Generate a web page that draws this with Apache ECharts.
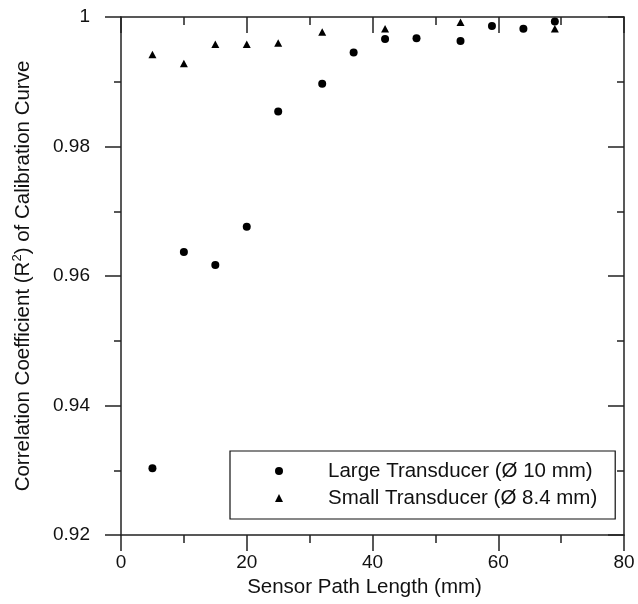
<!DOCTYPE html>
<html>
<head>
<meta charset="utf-8">
<script src="https://cdn.jsdelivr.net/npm/echarts@6/dist/echarts.min.js"></script>
<style>
  html, body { margin: 0; padding: 0; background: #fff; }
  #chart { width: 638px; height: 604px; }
</style>
</head>
<body>
<div id="chart"></div>
<script>
// Sensor path length (mm) for each transducer
const largePathLength = [5, 10, 15, 20, 25, 32, 37, 42, 47, 54, 59, 64, 69];
const largeR2 = [0.9303, 0.9637, 0.9617, 0.9676, 0.9854, 0.9897, 0.9945, 0.9966, 0.9967, 0.9963, 0.9986, 0.9982, 0.9993];

const smallPathLength = [5, 10, 15, 20, 25, 32, 42, 54, 69];
const smallR2 = [0.9942, 0.9928, 0.9958, 0.9958, 0.9960, 0.9977, 0.9982, 0.9992, 0.9982];

const seriesNames = ['Large Transducer (Ø 10 mm)', 'Small Transducer (Ø 8.4 mm)'];
const xTitle = 'Sensor Path Length (mm)';
const yTitle = 'Correlation Coefficient (R{sup|2}) of Calibration Curve';

const FONT = '"Liberation Sans", Arial, Helvetica, sans-serif';
const INK = '#111';

const pairs = (xs, ys) => xs.map((x, i) => [x, ys[i]]);

const lineStyle = { color: '#222', width: 1.5 };

function axisBase(extra) {
  return Object.assign({
    type: 'value',
    axisLine: { show: true, onZero: false, lineStyle: lineStyle },
    splitLine: { show: false },
    minorSplitLine: { show: false }
  }, extra);
}

const chart = echarts.init(document.getElementById('chart'), null, { renderer: 'canvas' });

chart.setOption({
  backgroundColor: '#fff',
  animation: false,
  grid: { left: 121, top: 17, right: 14, bottom: 69, containLabel: false },
  xAxis: [
    axisBase({
      position: 'bottom', min: 0, max: 80, interval: 20,
      axisTick: { show: true, inside: false, length: 16, lineStyle: lineStyle },
      minorTick: { show: true, splitNumber: 2, length: 8, lineStyle: lineStyle },
      axisLabel: { color: INK, fontFamily: FONT, fontSize: 19, margin: 18 },
      name: xTitle, nameLocation: 'middle', nameGap: 35,
      nameTextStyle: { color: INK, fontFamily: FONT, fontSize: 20.5, padding: [0, 16, 0, 0] }
    }),
    axisBase({
      position: 'top', min: 0, max: 80, interval: 20,
      axisTick: { show: true, inside: true, length: 16, lineStyle: lineStyle },
      minorTick: { show: true, splitNumber: 2, length: 8, lineStyle: lineStyle },
      axisLabel: { show: false }
    })
  ],
  yAxis: [
    axisBase({
      position: 'left', min: 0.92, max: 1, interval: 0.02,
      axisTick: { show: true, inside: false, length: 16, lineStyle: lineStyle },
      minorTick: { show: true, splitNumber: 2, length: 7, lineStyle: lineStyle },
      axisLabel: { color: INK, fontFamily: FONT, fontSize: 19, margin: 31 },
      name: yTitle, nameLocation: 'middle', nameGap: 86, nameRotate: 90,
      nameTextStyle: {
        color: INK, fontFamily: FONT, fontSize: 20.5, lineHeight: 24,
        rich: {
          sup: { fontFamily: FONT, fontSize: 13, color: INK, verticalAlign: 'top', lineHeight: 24 }
        }
      }
    }),
    axisBase({
      position: 'right', min: 0.92, max: 1, interval: 0.02,
      axisTick: { show: true, inside: true, length: 16, lineStyle: lineStyle },
      minorTick: { show: true, splitNumber: 2, length: 7, lineStyle: lineStyle },
      axisLabel: { show: false }
    })
  ],
  legend: {
    orient: 'vertical',
    left: 230, top: 451,
    padding: [9, 18, 10, 45],
    itemGap: 5,
    itemWidth: 8, itemHeight: 8,
    borderColor: '#111', borderWidth: 1.2, borderRadius: 0,
    backgroundColor: '#fff',
    formatter: name => '{gap|}' + name,
    textStyle: {
      color: INK, fontFamily: FONT, fontSize: 20.5, lineHeight: 22,
      rich: { gap: { width: 40 } }
    },
    data: [
      { name: seriesNames[0], icon: 'circle', itemStyle: { color: '#000' } },
      { name: seriesNames[1], icon: 'triangle', itemStyle: { color: '#000' } }
    ]
  },
  series: [
    {
      name: seriesNames[0], type: 'scatter', xAxisIndex: 0, yAxisIndex: 0,
      symbol: 'circle', symbolSize: 8,
      itemStyle: { color: '#000', opacity: 1 },
      data: pairs(largePathLength, largeR2), z: 3
    },
    {
      name: seriesNames[1], type: 'scatter', xAxisIndex: 0, yAxisIndex: 0,
      symbol: 'triangle', symbolSize: [8, 7.5],
      itemStyle: { color: '#000', opacity: 1 },
      data: pairs(smallPathLength, smallR2), z: 3
    }
  ]
});
</script>
</body>
</html>
